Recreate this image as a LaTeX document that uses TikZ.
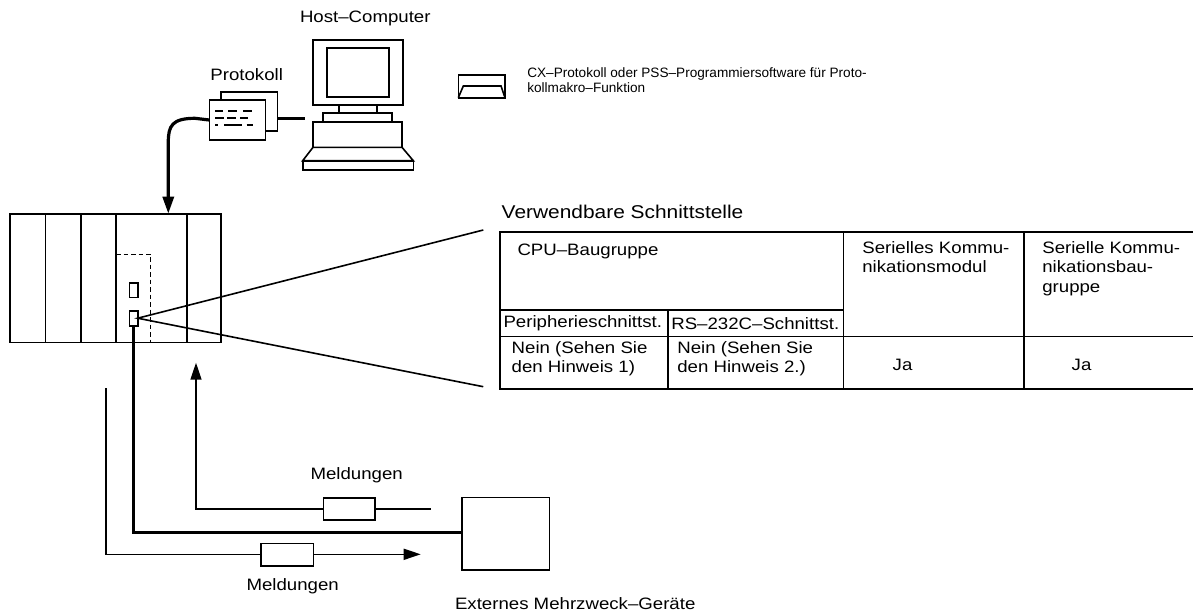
\documentclass[tikz,border=0pt]{standalone}
\usepackage{fontspec}
\setmainfont[FakeStretch=1.13]{Liberation Sans}
\newfontfamily\notefont{Liberation Sans}
\usetikzlibrary{arrows.meta}
\newcommand{\txtn}{\fontsize{16.5}{19.5}\selectfont}
\newcommand{\txts}{\notefont\fontsize{13.6}{14.5}\selectfont}
\newcommand{\txtl}{\fontsize{18.5}{20}\selectfont}
\tikzset{
  thin line/.style={line width=1.6pt},
  cable/.style={line width=3.2pt},
  box/.style={draw, line width=1.6pt, fill=white, inner sep=0pt, outer sep=0pt},
  lbl/.style={inner sep=0pt, outer sep=0pt, font=\txtn},
  tip/.style={-{Triangle[length=17pt,width=11pt]}},
  grid line/.style={line width=1.8pt},
}
\begin{document}
\begin{tikzpicture}[x=1pt,y=-1pt, line join=miter]
\useasboundingbox (0,0) rectangle (1193,614);

% host computer
\node[lbl] (hostlabel) at (365.3,18.3) {Host–Computer};
\node[box, minimum width=90pt, minimum height=65pt] (host) at (357.7,72.5) {};
\draw[thin line] (327,48) rectangle (389,97);
\draw[thin line] (339,105) rectangle (377,112.7);
\draw[thin line] (323,112.7) rectangle (392,121.7);
\draw[thin line] (313,121.7) rectangle (402,147.3);
\draw[thin line] (313,147.3) -- (402,147.3) -- (413.3,160.7) -- (302.7,160.7) -- cycle;
\draw[thin line] (302.7,160.7) rectangle (413.3,170);
\coordinate (hostport) at (305,118.3);

% protocol sheets
\node[lbl] (protlabel) at (246.7,75) {Protokoll};
\node[box, minimum width=56.3pt, minimum height=39pt] (docback) at (249.15,111.2) {};
\node[box, minimum width=56pt, minimum height=40pt] (doc) at (237.3,120) {};
\begin{scope}[line width=1.6pt]
\draw (215,110.7) -- (223.3,110.7) (228.3,110.7) -- (236.7,110.7) (243.3,110.7) -- (251.7,110.7);
\draw (215,117.7) -- (224,117.7) (227.3,117.7) -- (236,117.7) (240,117.7) -- (248.3,117.7);
\draw (215,125) -- (218.3,125) (224,125) -- (241.7,125) (246.7,125) -- (252.7,125);
\end{scope}

% software icon and note
\node[box, minimum width=46.7pt, minimum height=22.7pt] (icon) at (481.65,86.35) {};
\draw[thin line] (icon.south west) -- (463.3,86) -- (501,86) -- (icon.south east);
\node[lbl, font=\txts, anchor=west, align=left] (note) at (527.3,80) {CX–Protokoll oder PSS–Programmiersoftware für Proto-\\kollmakro–Funktion};

% PLC rack
\node[box, minimum width=210.7pt, minimum height=128.6pt] (plc) at (115.35,278) {};
\draw[thin line] (45.3,213.7) -- (45.3,342.3) (80.7,213.7) -- (80.7,342.3)
  (186.7,213.7) -- (186.7,342.3);
\draw[line width=2.1pt] (116,213.7) -- (116,342.3);
\draw[line width=1.3pt, dash pattern=on 4.5pt off 3pt] (116,254.3) -- (150.7,254.3) -- (150.7,342.3);
\node[box, minimum width=8.4pt, minimum height=14.6pt] (port1) at (133.5,290) {};
\node[box, minimum width=8.4pt, minimum height=15pt] (port) at (133.5,318.2) {};

% cables
\draw[cable] (docback.east |- hostport) -- (hostport);
\draw[cable, tip] (doc.west) -- (195,118.3) .. controls (172,118.3) and (168.3,126) .. (168.3,142) -- (168.3,213.7);
\coordinate (devconn) at (461.7,532.3);
\draw[cable] (port.south) -- (port.south |- devconn) -- (devconn);

% zoom lines to the table
\coordinate (zoomtop) at (483.3,230);
\coordinate (zoombot) at (483.3,386.7);
\draw[thin line] (zoomtop) -- (port.east) -- (zoombot);

% interface table
\node[lbl, font=\txtl, anchor=west] (tabtitle) at (501.7,211.5) {Verwendbare Schnittstelle};
\begin{scope}[grid line]
\draw (1193,232) -- (500,232) -- (500,389) -- (1193,389);
\draw (500,336.5) -- (1193,336.5);
\draw (500,310) -- (843.5,310);
\draw (843.5,232) -- (843.5,389) (1024,232) -- (1024,389) (668.3,310) -- (668.3,389);
\end{scope}
\node[lbl, anchor=west] (cpu) at (517.5,251.7) {CPU–Baugruppe};
\node[lbl, anchor=west] (peri) at (503.5,323.5) {Peripherieschnittst.};
\node[lbl, anchor=west] (rs) at (671.3,323.5) {RS–232C–Schnittst.};
\node[lbl, anchor=north west, align=left] (nein1) at (511.7,341.5) {Nein (Sehen Sie\\den Hinweis 1)};
\node[lbl, anchor=north west, align=left] (nein2) at (677.3,341.5) {Nein (Sehen Sie\\den Hinweis 2.)};
\node[lbl, anchor=north west, align=left] (scm) at (862.3,241.5) {Serielles Kommu-\\nikationsmodul};
\node[lbl, anchor=north west, align=left] (scb) at (1042.3,241.5) {Serielle Kommu-\\nikationsbau-\\gruppe};
\node[lbl, anchor=west] (ja1) at (892.7,365) {Ja};
\node[lbl, anchor=west] (ja2) at (1071.7,365) {Ja};

% external device
\node[box, minimum width=87.6pt, minimum height=72.7pt] (device) at (505.5,533.65) {};
\node[lbl, anchor=west] (devlabel) at (455,603.3) {Externes Mehrzweck–Geräte};

% messages to the PLC
\coordinate (inend) at (430.7,509);
\draw[thin line, tip] (inend) -- (196,509) -- (196,362.7);
\node[box, minimum width=51.7pt, minimum height=22.3pt] (res1) at (349.2,508.9) {};
\node[lbl] (msg1) at (356.7,475.7) {Meldungen};

% messages from the PLC
\coordinate (outstart) at (106,388.3);
\draw[thin line, tip] (outstart) -- (106,554.3) -- (420.7,554.3);
\node[box, minimum width=52.3pt, minimum height=22.4pt] (res2) at (287.2,554.5) {};
\node[lbl] (msg2) at (292.7,586.7) {Meldungen};
\end{tikzpicture}
\end{document}
